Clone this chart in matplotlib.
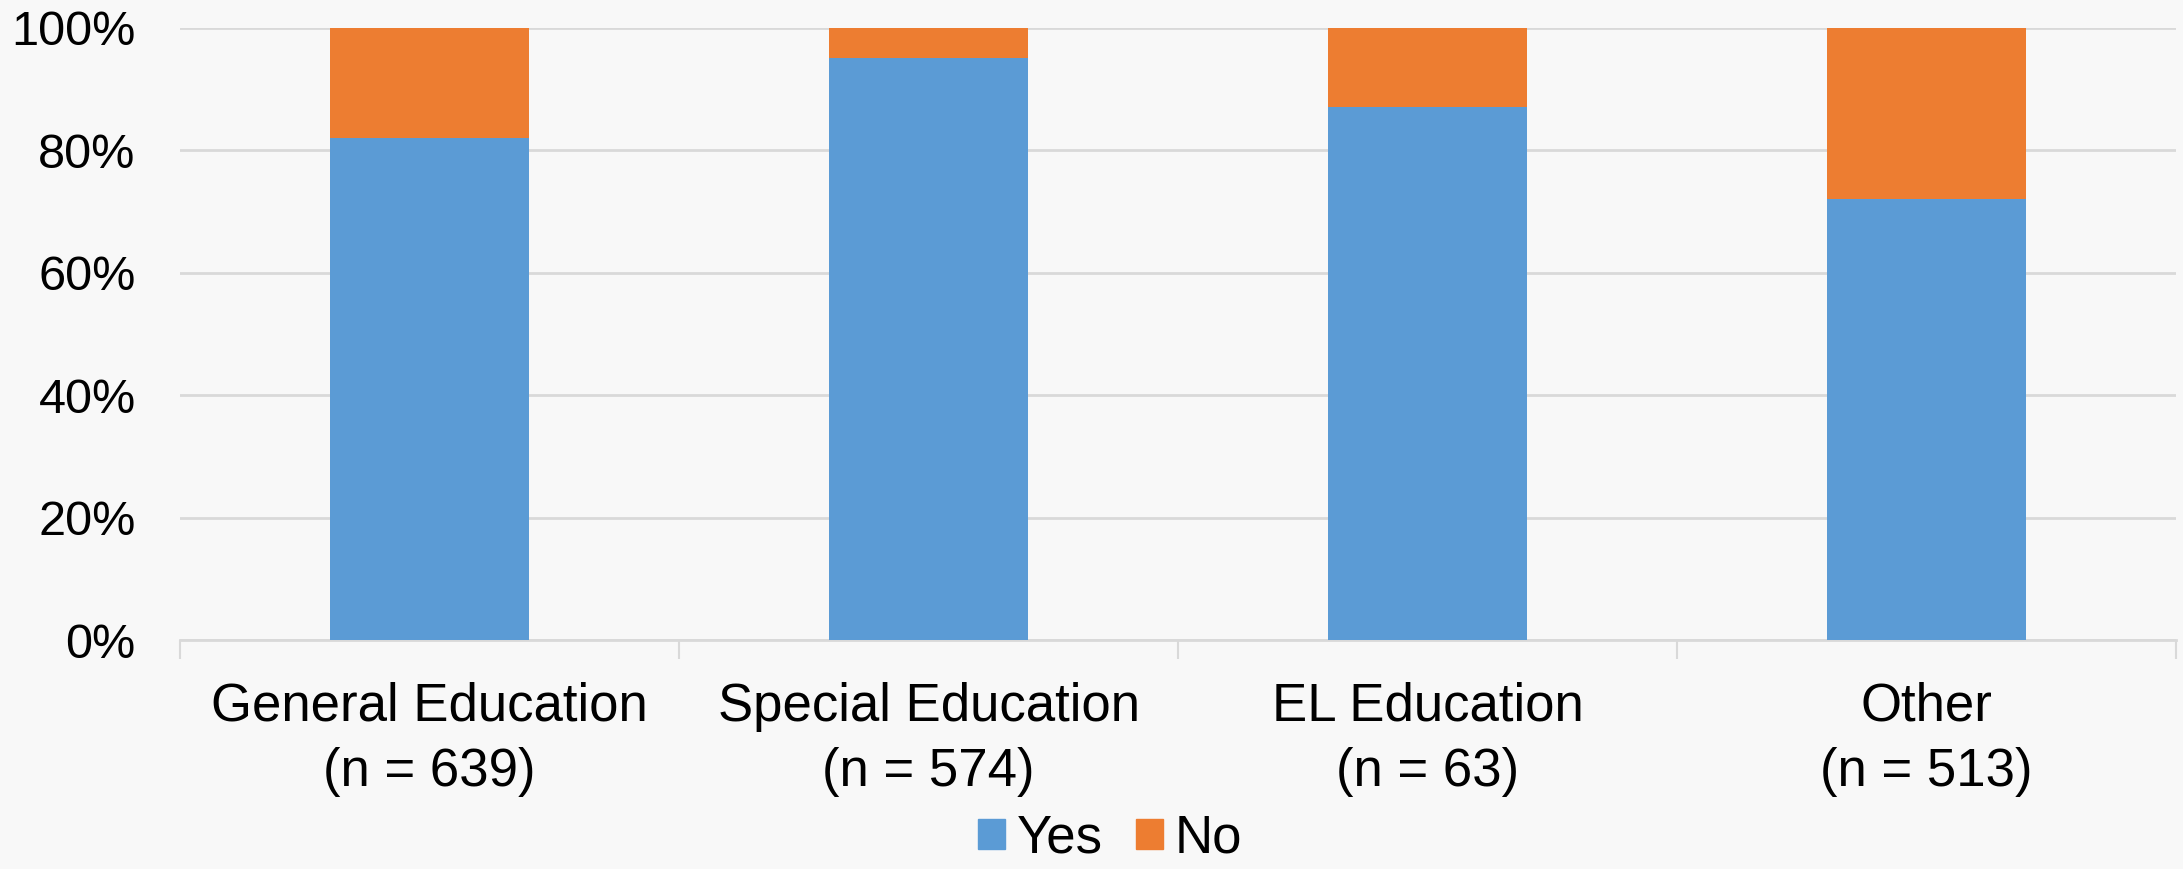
import matplotlib.pyplot as plt
import numpy as np
from matplotlib.patches import Patch
from matplotlib.ticker import FuncFormatter

plt.rcParams['font.family'] = ['Liberation Sans', 'DejaVu Sans']

categories = ['General Education\n(n = 639)', 'Special Education\n(n = 574)',
              'EL Education\n(n = 63)', 'Other\n(n = 513)']
yes_pct = [82, 95, 87, 72]
no_pct = [18, 5, 13, 28]

blue = '#5B9BD5'
orange = '#ED7D31'
bg = '#F8F8F8'

fig = plt.figure(figsize=(21.83, 8.69), dpi=100, facecolor=bg)
ax = fig.add_axes([0.0825, 0.2635, 0.9143, 0.7045], facecolor=bg)

x = np.arange(len(categories))
width = 0.4
ax.bar(x, yes_pct, width, color=blue, zorder=3)
ax.bar(x, no_pct, width, bottom=yes_pct, color=orange, zorder=3)

ax.set_xlim(-0.5, len(categories) - 0.5)
ax.set_ylim(0, 100)
ax.set_yticks(np.arange(0, 101, 20))
ax.yaxis.set_major_formatter(FuncFormatter(lambda v, p: f'{v:.0f}%'))
ax.grid(axis='y', color='#D9D9D9', linewidth=2, zorder=0)

# category labels centred, boundary ticks between categories
ax.set_xticks(x)
ax.set_xticklabels(categories, fontsize=38, linespacing=1.38)
ax.set_xticks(np.arange(-0.5, len(categories)), minor=True)
ax.tick_params(axis='x', which='major', length=0, pad=30)
ax.tick_params(axis='x', which='minor', length=14, width=1.5, color='#D9D9D9')
ax.tick_params(axis='y', length=0, pad=32, labelsize=35)

for side in ['top', 'right', 'left']:
    ax.spines[side].set_visible(False)
ax.spines['bottom'].set_color('#D9D9D9')
ax.spines['bottom'].set_linewidth(2)

handles = [Patch(color=blue, label='Yes'), Patch(color=orange, label='No')]
fig.legend(handles=handles, loc='center', bbox_to_anchor=(1110 / 2183, 0.035),
           ncol=2, frameon=False, fontsize=38,
           handlelength=0.51, handleheight=0.51, handletextpad=0.22, columnspacing=0.62,
           borderpad=0, borderaxespad=0)

fig.savefig('out.png', dpi=100, facecolor=bg)
